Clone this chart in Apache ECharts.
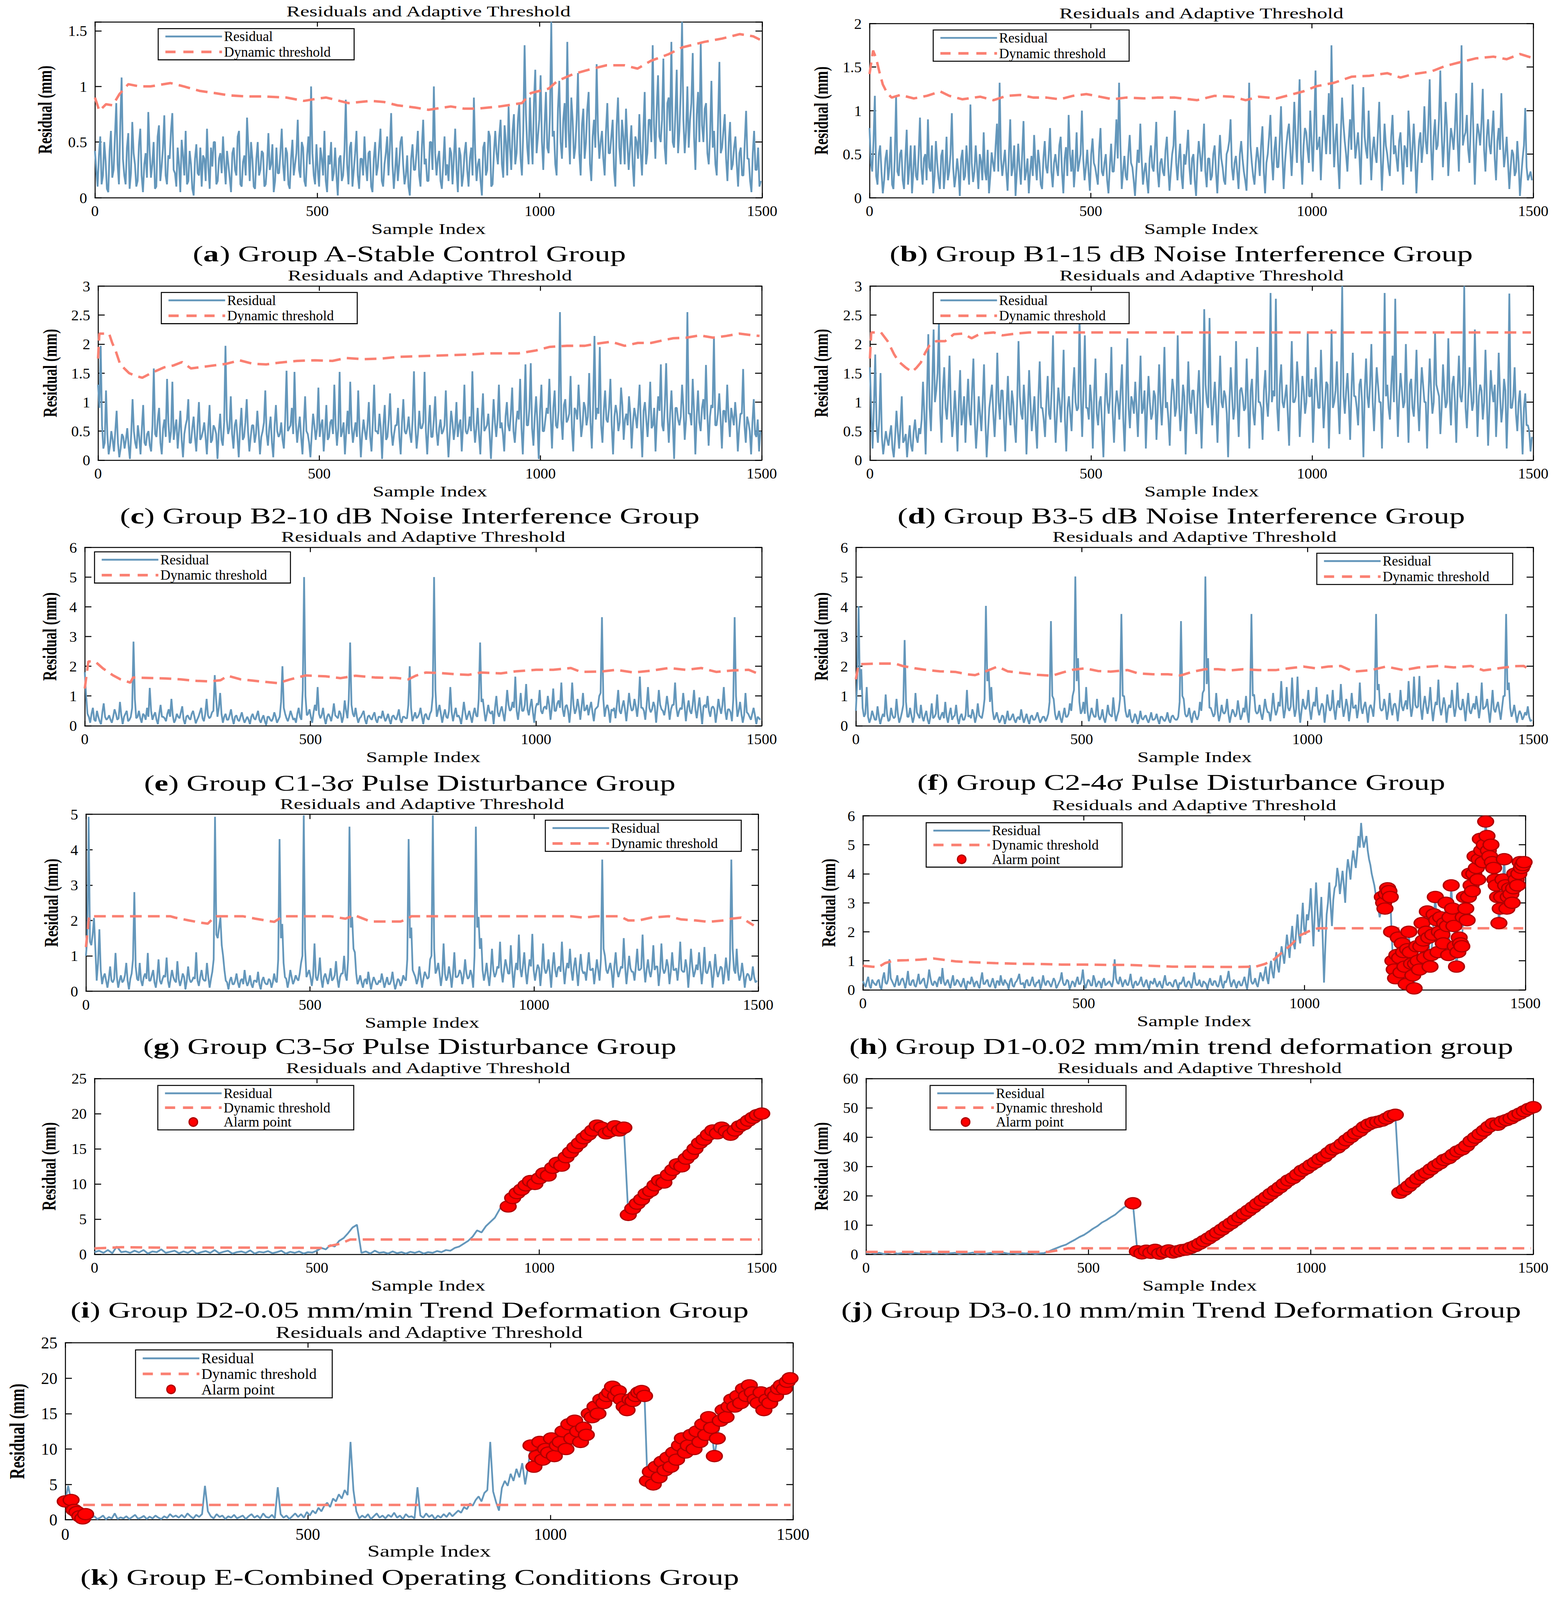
<!DOCTYPE html>
<html><head><meta charset="utf-8">
<script src="https://cdn.jsdelivr.net/npm/echarts@6/dist/echarts.min.js"></script>
<style>html,body{margin:0;padding:0;background:#fff;overflow:hidden}#c{width:3991px;height:5706px}</style>
</head><body><div id="c"></div>
<script>
// ---------------- DATA ----------------
// resX: samples 0,6,12,...  resX2: samples 3,9,15,...  (interleaved => one value every 3 samples)
// resI/resJ: one value every 10 samples; resK: one value every 6 samples
const resA = [0.42,0.1,0.55,0.2,0.33,0.05,0.6,0.25,0.85,0.12,
1.08,0.2,0.45,0.08,0.68,0.3,0.15,0.62,0.05,0.4,
0.77,0.18,0.5,0.1,0.65,0.28,0.74,0.12,0.35,0.76,
0.22,0.45,0.05,0.38,0.6,0.15,0.3,0.02,0.48,0.2,
0.1,0.35,0.62,0.08,0.28,0.5,0.15,0.4,0.55,0.12,
0.3,0.05,0.45,0.2,0.6,0.1,0.38,0.72,0.15,0.35,
0.08,0.5,0.25,0.4,0.12,0.58,0.3,0.05,0.45,0.22,
0.62,0.15,0.4,0.08,0.52,0.3,0.7,0.18,0.45,0.1,
0.55,1.0,0.2,0.48,0.1,0.35,0.6,0.05,0.3,0.15,
0.45,0.02,0.38,0.2,0.88,0.12,0.5,0.25,0.6,0.08,
0.35,0.55,0.15,0.42,0.05,0.5,0.28,0.62,0.1,0.4,
0.2,0.76,0.08,0.45,0.3,0.55,0.12,0.38,0.02,0.48,
0.25,0.6,0.1,0.7,0.35,0.15,0.5,1.0,0.2,0.42,
0.08,0.55,0.3,0.45,0.12,0.62,0.05,0.38,0.2,0.5,
0.1,0.45,0.9,0.15,0.35,0.02,0.5,0.25,0.55,0.12,
0.6,0.3,0.7,0.18,0.5,0.82,0.25,0.75,0.4,0.85,
0.2,1.37,0.45,0.9,0.3,1.15,0.55,1.1,0.25,0.95,
0.4,1.58,0.6,0.2,1.05,0.35,0.85,1.4,0.3,0.7,
0.45,1.12,0.2,0.8,0.5,0.95,0.15,0.7,1.2,0.35,
0.6,0.2,0.85,0.4,0.7,0.1,0.9,0.3,0.55,0.8,
0.25,0.65,0.1,0.5,0.75,0.2,0.95,0.4,0.7,1.37,
0.35,1.1,0.5,1.25,0.3,0.9,1.4,0.45,1.15,0.6,
1.58,0.4,1.0,0.7,1.3,0.25,0.95,1.39,0.5,0.85,
0.3,1.05,0.6,0.2,1.22,0.45,0.75,0.15,0.68,0.3,
0.55,0.1,0.45,0.2,0.78,0.35,0.05,0.6,0.25,0.1];
const resA2 = [0.25,0.38,0.12,0.5,0.08,0.42,0.18,0.55,0.3,0.65,
0.35,0.12,0.58,0.22,0.4,0.1,0.48,0.2,0.3,0.18,
0.42,0.3,0.08,0.55,0.15,0.45,0.2,0.38,0.6,0.25,
0.1,0.3,0.52,0.2,0.12,0.42,0.08,0.35,0.22,0.45,
0.38,0.15,0.28,0.45,0.5,0.12,0.35,0.22,0.3,0.42,
0.18,0.4,0.25,0.55,0.12,0.32,0.2,0.45,0.5,0.1,
0.35,0.2,0.42,0.1,0.3,0.25,0.48,0.15,0.22,0.4,
0.3,0.45,0.12,0.35,0.2,0.4,0.25,0.5,0.15,0.38,
0.3,0.4,0.12,0.25,0.45,0.2,0.15,0.38,0.5,0.22,
0.2,0.35,0.15,0.42,0.3,0.45,0.1,0.4,0.2,0.35,
0.2,0.3,0.4,0.1,0.35,0.2,0.45,0.15,0.3,0.55,
0.45,0.3,0.25,0.15,0.5,0.3,0.2,0.1,0.35,0.25,
0.4,0.2,0.45,0.3,0.15,0.5,0.25,0.4,0.35,0.15,
0.3,0.2,0.15,0.4,0.35,0.25,0.45,0.1,0.4,0.25,
0.35,0.2,0.4,0.3,0.15,0.45,0.2,0.6,0.1,0.4,
0.4,0.55,0.3,0.65,0.2,0.45,0.6,0.3,0.7,0.35,
0.6,0.75,0.3,0.55,0.85,0.4,0.7,0.5,0.65,0.45,
0.75,0.55,0.3,0.8,0.5,0.7,0.45,0.6,0.9,0.35,
0.7,0.4,0.65,0.35,0.8,0.3,0.55,0.45,0.6,0.5,
0.35,0.6,0.4,0.55,0.25,0.65,0.45,0.7,0.3,0.5,
0.45,0.3,0.55,0.35,0.4,0.6,0.3,0.7,0.5,0.65,
0.8,0.55,0.7,0.45,0.85,0.6,0.5,0.75,0.4,0.95,
0.7,0.6,0.45,0.85,0.55,0.75,0.5,0.65,0.8,0.4,
0.55,0.45,0.3,0.7,0.4,0.6,0.35,0.5,0.25,0.45,
0.3,0.4,0.2,0.5,0.35,0.15,0.4,0.25,0.45,0.15];
const resB = [0.8,0.3,1.17,0.15,0.6,0.05,0.45,0.2,0.7,0.1,
1.16,0.25,0.55,0.1,0.78,0.35,0.05,0.6,0.2,0.92,
0.15,0.5,0.9,0.3,0.05,0.65,0.22,0.48,0.1,0.7,
0.3,0.97,0.12,0.45,0.02,0.55,0.25,0.38,1.07,0.18,
0.6,0.1,0.42,0.75,0.2,0.05,0.52,0.3,0.85,1.32,
0.25,0.55,0.08,0.9,0.35,0.02,0.62,0.15,0.88,0.3,
0.05,0.48,0.72,0.2,0.4,0.1,0.65,0.28,0.8,0.12,
0.5,0.25,0.7,0.05,0.58,0.95,0.3,0.12,0.75,0.4,
1.0,0.2,0.55,0.08,0.68,0.35,0.15,0.8,0.25,0.5,
0.05,0.62,0.3,0.9,1.32,0.1,0.48,0.2,0.72,0.35,
0.02,0.55,0.85,0.15,0.4,0.05,0.6,0.3,0.87,0.12,
0.45,0.25,0.7,0.08,0.5,1.0,0.2,0.62,0.1,0.38,
0.78,0.15,0.5,0.02,0.65,0.3,0.85,0.12,0.45,0.25,
0.6,0.05,0.72,0.35,0.15,0.55,0.9,0.2,0.48,0.1,
0.65,0.3,0.08,1.32,0.4,0.15,0.58,0.25,0.82,0.05,
0.5,0.95,0.2,0.7,0.35,1.05,0.1,0.6,0.85,0.25,
1.1,0.4,1.36,0.15,0.8,0.55,1.0,0.3,1.46,0.6,
0.2,0.95,0.5,1.2,1.75,0.35,0.85,0.1,1.15,0.65,
0.3,0.9,1.3,0.45,0.75,0.15,1.27,0.55,1.0,0.2,
0.7,0.4,1.1,0.08,0.85,0.5,0.25,0.95,0.6,0.3,
0.75,0.15,0.55,1.0,0.3,0.85,0.05,0.65,0.4,1.05,
0.5,1.36,0.2,0.9,0.6,1.46,0.35,1.1,0.25,0.8,
0.55,1.2,0.3,1.75,0.7,0.95,0.4,1.32,0.15,0.85,
0.6,1.25,0.3,0.9,0.5,1.0,0.2,0.8,1.2,0.35,
0.7,0.1,0.55,0.25,0.65,0.02,0.45,1.03,0.2,0.3];
const resB2 = [0.4,0.65,0.25,0.5,0.3,0.2,0.55,0.35,0.15,0.45,
0.3,0.5,0.2,0.45,0.15,0.6,0.3,0.25,0.5,0.35,
0.45,0.2,0.35,0.6,0.25,0.4,0.1,0.55,0.3,0.2,
0.5,0.35,0.25,0.3,0.45,0.2,0.6,0.15,0.4,0.3,
0.35,0.5,0.2,0.3,0.55,0.25,0.4,0.6,0.3,0.45,
0.4,0.3,0.5,0.25,0.6,0.3,0.35,0.5,0.2,0.45,
0.3,0.25,0.4,0.55,0.15,0.45,0.35,0.5,0.3,0.4,
0.35,0.6,0.3,0.45,0.25,0.5,0.55,0.35,0.3,0.5,
0.45,0.35,0.3,0.5,0.4,0.25,0.55,0.3,0.4,0.2,
0.35,0.3,0.55,0.45,0.6,0.3,0.25,0.5,0.4,0.2,
0.3,0.4,0.45,0.3,0.2,0.45,0.35,0.55,0.3,0.4,
0.3,0.55,0.35,0.3,0.6,0.4,0.45,0.25,0.5,0.55,
0.35,0.45,0.2,0.4,0.5,0.55,0.3,0.45,0.2,0.5,
0.3,0.4,0.45,0.2,0.5,0.65,0.35,0.4,0.3,0.5,
0.45,0.2,0.55,0.6,0.25,0.4,0.45,0.6,0.3,0.4,
0.7,0.45,0.55,0.35,0.65,0.5,0.4,0.75,0.55,0.6,
0.7,0.85,0.5,0.6,0.75,0.4,0.65,0.8,0.55,0.7,
0.6,0.75,0.8,0.5,0.9,0.65,0.4,0.7,0.85,0.5,
0.65,0.55,0.8,0.6,0.5,0.75,0.7,0.45,0.6,0.55,
0.5,0.75,0.55,0.45,0.6,0.35,0.7,0.5,0.45,0.65,
0.45,0.6,0.35,0.7,0.55,0.5,0.4,0.75,0.6,0.65,
0.85,0.6,0.7,0.55,0.9,0.75,0.65,0.8,0.55,0.7,
0.8,0.65,0.9,0.6,0.75,0.55,0.85,0.7,0.6,0.75,
0.85,0.55,0.7,0.6,0.75,0.45,0.65,0.55,0.7,0.5,
0.4,0.35,0.5,0.3,0.4,0.25,0.6,0.35,0.25,0.2];
const resC = [1.3,1.97,0.2,1.2,0.1,0.5,0.15,0.85,0.05,0.45,
0.2,0.55,0.02,1.05,0.3,0.6,0.1,0.95,0.25,0.5,
0.15,1.58,0.4,0.9,0.1,0.7,1.4,0.3,1.35,0.55,
0.2,0.85,0.05,0.6,1.05,0.3,0.75,0.15,1.0,0.4,
0.65,0.1,0.95,0.35,0.55,0.02,0.8,0.25,1.97,0.45,
1.1,0.2,0.7,0.05,0.9,0.4,1.05,0.15,0.6,0.3,
0.85,0.1,0.5,1.2,0.25,0.75,0.05,0.95,0.4,0.65,
0.2,1.54,0.55,0.9,1.52,0.3,0.75,0.1,1.1,0.45,
0.05,0.8,0.35,1.25,0.6,0.15,0.95,0.4,0.7,1.3,
0.25,1.52,0.5,0.1,0.85,1.35,0.3,0.65,1.2,0.05,
0.7,0.35,1.0,0.15,1.3,0.5,0.8,0.02,0.95,0.4,
1.15,0.25,0.6,0.9,0.1,1.05,0.45,0.75,0.3,1.53,
0.2,0.85,0.55,1.52,0.1,0.95,0.4,1.1,0.25,0.7,
0.5,1.2,0.05,0.85,0.35,1.0,0.6,0.15,1.3,0.45,
0.75,1.53,0.3,0.9,0.1,1.15,0.55,0.8,0.02,1.05,
0.4,1.3,0.65,0.15,1.0,0.5,1.25,0.3,0.85,1.4,
0.1,1.65,0.6,1.67,0.25,1.1,0.02,1.3,0.5,0.9,
1.4,0.2,1.2,0.55,2.55,0.35,1.05,0.7,1.45,0.15,
0.85,1.3,0.4,1.0,0.6,1.5,0.2,2.14,0.9,1.95,
0.3,1.2,0.65,1.4,0.1,0.95,0.5,1.25,0.35,0.8,
1.1,0.2,0.9,0.55,1.3,0.05,1.0,0.4,1.35,0.6,
0.15,1.1,1.65,0.5,1.67,0.3,1.2,0.02,0.9,0.6,
1.3,0.35,2.55,0.8,1.4,0.1,1.2,0.5,1.05,1.64,
0.25,0.95,2.13,0.6,1.15,0.2,0.85,1.3,0.4,0.75,
1.0,0.15,0.8,1.57,0.3,0.65,0.1,1.05,0.4,0.15];
const resC2 = [0.9,0.6,0.3,0.45,0.25,0.35,0.5,0.3,0.2,0.4,
0.35,0.25,0.45,0.5,0.2,0.4,0.55,0.3,0.45,0.25,
0.6,0.45,0.7,0.3,0.55,0.4,0.65,0.5,0.35,0.7,
0.5,0.35,0.45,0.7,0.3,0.55,0.4,0.6,0.35,0.5,
0.4,0.55,0.3,0.6,0.45,0.5,0.35,0.65,0.7,0.55,
0.45,0.6,0.4,0.55,0.35,0.65,0.5,0.4,0.6,0.45,
0.5,0.4,0.65,0.45,0.55,0.3,0.6,0.5,0.45,0.35,
0.7,0.5,0.6,0.45,0.65,0.55,0.4,0.6,0.5,0.3,
0.45,0.6,0.55,0.4,0.7,0.5,0.35,0.65,0.45,0.6,
0.55,0.4,0.65,0.5,0.45,0.6,0.5,0.4,0.55,0.45,
0.5,0.6,0.4,0.65,0.5,0.45,0.55,0.6,0.35,0.7,
0.5,0.45,0.6,0.4,0.65,0.5,0.55,0.45,0.7,0.6,
0.45,0.55,0.65,0.5,0.6,0.4,0.7,0.5,0.55,0.45,
0.6,0.5,0.45,0.65,0.55,0.4,0.7,0.6,0.5,0.55,
0.5,0.65,0.55,0.45,0.7,0.5,0.6,0.45,0.55,0.65,
0.7,0.55,0.45,0.75,0.6,0.8,0.5,0.65,0.7,0.55,
0.8,0.6,0.9,0.55,0.75,0.65,0.85,0.5,0.7,0.8,
0.75,0.9,0.6,0.85,0.7,0.95,0.65,0.8,0.55,0.9,
0.7,0.85,0.6,0.9,0.75,0.65,0.95,0.7,0.8,0.6,
0.85,0.7,0.9,0.6,0.75,0.8,0.65,0.95,0.7,0.6,
0.8,0.65,0.75,0.9,0.6,0.85,0.7,0.8,0.55,0.9,
0.7,0.85,0.6,0.95,0.75,0.8,0.65,0.9,0.7,0.75,
0.9,0.7,0.8,0.6,0.85,0.75,0.65,0.9,0.7,0.8,
0.75,0.9,0.6,0.8,0.7,0.85,0.65,0.75,0.9,0.6,
0.7,0.55,0.8,0.6,0.75,0.5,0.65,0.45,0.7,0.5];
const resD = [1.6,0.2,1.82,0.3,1.5,0.1,0.5,0.25,0.6,0.05,
0.85,0.2,1.1,0.35,0.05,0.6,0.15,0.7,0.3,0.45,
1.35,0.1,2.17,0.5,2.25,1.2,2.35,0.3,1.6,0.7,
1.8,0.4,1.2,0.15,1.55,0.8,0.3,1.4,0.6,1.75,
0.2,1.1,0.5,1.65,0.05,0.9,1.3,0.4,1.85,0.7,
1.2,0.15,1.45,0.6,1.0,0.3,2.05,0.8,1.3,0.1,
1.55,0.5,1.1,0.2,1.7,0.9,0.4,1.45,0.7,2.15,
0.3,1.25,0.65,1.9,0.15,1.1,0.5,1.6,0.85,2.5,
0.4,2.15,0.9,1.3,0.2,1.75,0.6,1.1,0.05,1.5,
0.8,1.95,0.3,1.2,0.7,1.65,0.15,2.1,0.55,1.0,
1.35,0.4,1.8,0.9,0.2,1.45,0.7,1.2,0.35,1.65,
0.6,1.95,1.0,0.25,1.4,0.75,2.15,0.5,1.3,0.1,
1.7,0.8,1.2,0.45,1.55,0.2,2.6,1.0,2.45,0.6,
1.35,0.3,1.8,0.9,1.1,0.05,1.6,0.7,2.05,0.4,
1.25,0.85,1.75,0.2,1.4,0.6,1.95,1.0,0.35,1.55,
0.75,2.88,1.2,2.78,0.5,1.65,0.9,1.3,0.25,2.05,
1.0,1.7,0.4,1.45,0.8,2.2,1.1,0.3,1.6,0.9,
1.9,0.55,1.35,0.2,2.25,1.0,1.7,0.45,3.0,0.8,
1.5,0.35,1.85,1.1,0.6,1.4,0.05,1.75,0.9,2.0,
0.5,1.6,1.0,0.2,2.88,1.3,0.7,1.8,2.78,0.4,
1.5,0.9,2.0,0.3,1.4,0.75,1.9,0.5,1.6,1.0,
0.2,1.75,0.8,2.2,1.2,0.45,1.65,0.9,2.1,0.6,
1.45,0.3,1.8,1.0,3.0,0.55,1.6,0.85,2.25,0.4,
1.3,0.7,1.9,0.25,1.55,1.0,0.4,1.85,0.65,1.4,
0.2,2.87,0.9,1.6,0.5,1.2,0.1,1.15,0.6,0.15];
const resD2 = [0.8,0.9,0.6,0.7,0.4,0.3,0.35,0.45,0.2,0.4,
0.5,0.6,0.3,0.45,0.35,0.25,0.5,0.4,0.55,0.7,
0.8,1.1,0.9,1.3,1.0,1.5,0.8,1.2,0.9,1.1,
0.9,0.7,0.8,1.0,0.6,1.1,0.9,0.8,1.2,0.7,
0.6,0.8,1.0,0.7,0.5,1.1,0.8,0.9,1.0,1.2,
0.7,0.9,0.8,1.2,0.6,1.0,1.1,0.7,0.9,0.8,
1.0,0.8,0.6,1.1,0.9,0.7,1.0,0.8,1.2,0.9,
0.8,1.0,1.1,0.7,0.9,0.8,1.2,1.0,0.9,1.1,
1.2,0.9,0.7,1.0,1.1,0.8,1.0,0.6,0.9,1.0,
1.1,0.8,0.9,1.0,1.2,0.7,1.0,0.9,1.1,0.8,
0.9,1.1,0.8,1.2,0.9,1.0,0.8,1.1,0.9,1.0,
1.1,0.9,0.7,1.0,1.2,0.9,1.0,0.8,1.1,0.9,
1.0,1.2,0.8,1.1,0.9,1.0,1.3,0.9,1.1,1.0,
0.9,1.1,1.0,1.2,0.8,1.0,1.1,0.9,1.0,1.2,
1.1,0.9,1.0,1.2,0.8,1.1,1.0,0.9,1.2,1.0,
1.2,1.0,1.1,0.9,1.3,1.0,1.1,0.8,1.2,1.0,
1.1,1.3,0.9,1.2,1.0,1.1,1.4,1.0,1.2,0.9,
1.2,1.0,1.3,1.1,0.9,1.2,1.0,1.3,1.1,1.2,
1.0,1.2,1.1,0.9,1.3,1.0,1.2,1.1,1.3,1.0,
1.1,1.3,1.0,1.2,1.1,0.9,1.3,1.0,1.2,1.1,
1.2,1.0,1.1,1.3,0.9,1.2,1.0,1.1,1.3,1.0,
1.1,1.2,1.0,1.3,1.1,0.9,1.2,1.0,1.1,1.3,
1.0,1.2,1.1,1.3,0.9,1.1,1.2,1.0,1.3,1.1,
1.2,1.0,1.1,0.9,1.2,1.3,1.0,1.1,0.9,1.2,
1.0,0.9,1.1,0.8,1.0,0.7,0.9,0.6,0.5,0.4];
const resE = [1.8,0.4,0.1,0.6,0.15,0.3,0.05,0.75,0.2,0.35,
0.1,0.55,0.2,0.8,0.05,0.4,0.15,0.3,2.83,0.25,
0.5,0.1,0.35,0.6,1.27,0.2,0.45,0.05,0.7,0.3,
0.15,0.55,0.9,0.1,0.4,0.25,0.65,0.05,0.35,0.2,
0.5,0.08,0.3,0.6,0.15,0.9,0.25,0.45,1.7,0.3,
1.1,0.1,0.4,0.2,0.55,0.05,0.35,0.15,0.45,0.1,
0.3,0.05,0.4,0.2,0.5,0.1,0.35,0.02,0.3,0.15,
0.45,0.1,0.3,2.0,0.4,0.15,0.5,0.2,0.1,0.6,
0.2,5.0,0.35,0.55,0.1,0.7,1.3,0.25,0.6,0.05,
0.4,0.15,0.75,0.3,0.5,0.1,0.85,0.25,2.8,0.4,
0.6,0.1,0.3,0.5,0.05,0.35,0.2,0.45,0.1,0.3,
0.5,0.15,0.4,0.05,0.35,0.2,0.55,0.1,0.3,0.25,
2.0,0.15,0.45,0.3,0.6,0.05,0.4,0.2,0.5,5.0,
0.3,0.7,0.1,0.55,0.25,1.3,0.15,0.6,0.35,0.05,
0.8,0.2,0.5,0.1,0.6,0.3,2.8,0.9,0.15,0.7,
0.4,0.05,1.0,0.3,0.65,0.15,1.2,0.5,0.8,1.65,
0.2,1.1,0.5,1.4,0.35,0.9,0.1,0.75,1.2,0.4,
0.65,1.0,0.2,1.25,0.5,0.85,1.45,0.3,0.7,0.1,
1.45,0.4,0.9,0.2,1.1,0.55,0.35,0.8,0.15,0.6,
1.0,3.65,0.3,0.7,0.1,0.5,0.25,1.2,0.4,0.85,
0.15,1.1,0.5,0.9,0.3,1.65,0.6,0.2,1.3,0.45,
0.8,0.1,1.2,0.55,0.35,1.0,0.2,0.7,1.45,0.3,
0.6,1.1,0.15,0.85,0.4,1.2,0.25,0.95,0.05,0.7,
1.0,0.3,0.65,0.1,0.9,0.4,1.3,0.2,0.55,0.15,
3.65,0.3,0.8,0.1,1.1,0.4,0.2,0.6,0.05,0.25];
const resE2 = [1.0,0.3,0.4,0.2,0.5,0.15,0.45,0.3,0.25,0.2,
0.3,0.4,0.25,0.35,0.3,0.5,0.2,0.6,0.9,0.3,
0.25,0.4,0.2,0.3,0.5,0.35,0.2,0.4,0.3,0.25,
0.4,0.3,0.35,0.2,0.3,0.45,0.2,0.3,0.25,0.4,
0.3,0.2,0.45,0.25,0.4,0.35,0.3,0.5,0.9,0.6,
0.4,0.3,0.2,0.35,0.25,0.3,0.2,0.3,0.25,0.2,
0.2,0.3,0.25,0.35,0.2,0.25,0.15,0.3,0.2,0.25,
0.3,0.2,0.8,0.6,0.25,0.3,0.35,0.25,0.4,0.3,
1.2,1.0,0.4,0.3,0.45,0.5,0.4,0.35,0.25,0.3,
0.3,0.4,0.35,0.25,0.4,0.3,0.5,0.9,0.7,0.3,
0.3,0.25,0.4,0.2,0.3,0.25,0.35,0.2,0.3,0.25,
0.3,0.25,0.2,0.3,0.25,0.35,0.2,0.3,0.25,0.7,
0.6,0.3,0.25,0.4,0.3,0.35,0.25,0.4,1.0,1.2,
0.5,0.4,0.35,0.3,0.5,0.45,0.4,0.3,0.25,0.4,
0.45,0.35,0.3,0.4,0.35,0.9,0.8,0.5,0.4,0.45,
0.5,0.6,0.45,0.5,0.4,0.6,0.7,0.55,0.6,0.5,
0.6,0.5,0.7,0.55,0.65,0.45,0.6,0.7,0.5,0.6,
0.55,0.7,0.6,0.5,0.75,0.6,0.55,0.65,0.5,0.6,
0.7,0.55,0.6,0.65,0.5,0.7,0.6,0.45,0.55,0.65,
1.1,0.9,0.6,0.5,0.55,0.6,0.7,0.5,0.65,0.55,
0.6,0.7,0.55,0.65,0.75,0.6,0.5,0.7,0.6,0.55,
0.65,0.6,0.7,0.5,0.6,0.65,0.55,0.7,0.6,0.5,
0.55,0.65,0.6,0.5,0.7,0.55,0.6,0.5,0.65,0.6,
0.5,0.6,0.55,0.45,0.6,0.7,0.5,0.55,0.45,0.9,
1.0,0.5,0.4,0.35,0.45,0.3,0.4,0.35,0.3,0.2];
const resF = [0.5,4.02,1.9,0.3,1.3,0.1,0.5,0.2,0.65,0.05,
0.4,1.05,0.15,0.6,0.25,0.9,0.1,0.45,2.88,0.3,
0.6,0.1,1.1,0.35,0.7,0.15,0.5,0.05,0.75,0.3,
1.05,0.2,0.45,0.8,0.1,0.6,0.3,0.7,0.05,0.4,
0.2,1.2,0.35,0.55,0.1,0.75,0.3,0.5,4.03,1.9,
1.3,0.2,0.45,0.1,0.35,0.05,0.5,0.2,0.4,0.1,
0.3,0.55,0.1,0.4,0.05,0.35,0.2,0.45,0.1,0.3,
0.15,0.4,3.52,0.9,0.2,0.5,0.1,0.6,0.3,0.75,
1.0,5.02,2.27,0.4,0.8,1.3,0.15,0.6,0.3,0.9,
0.2,0.55,0.1,0.7,0.35,0.95,0.15,0.5,3.76,1.0,
0.3,0.55,0.1,0.4,0.05,0.5,0.2,0.35,0.1,0.45,
0.2,0.4,0.05,0.3,0.15,0.45,0.1,0.35,0.2,0.3,
3.52,0.9,0.3,0.6,0.1,0.5,0.2,0.8,1.1,5.02,
2.27,0.6,0.3,1.1,0.15,0.7,0.4,0.9,0.1,0.55,
0.3,0.85,0.2,0.6,1.0,0.1,3.76,1.05,0.4,0.7,
0.2,0.9,0.45,0.15,1.1,0.35,0.8,1.5,0.25,1.3,
0.5,1.62,0.3,1.65,0.1,0.9,0.55,1.2,0.2,0.8,
1.3,0.35,0.75,0.1,1.05,0.5,1.2,0.2,0.85,1.4,
0.3,0.9,0.15,1.1,0.6,0.25,1.45,0.4,0.8,0.1,
0.7,0.3,3.76,1.4,0.5,0.9,0.2,1.1,0.35,0.75,
0.15,1.2,0.5,0.85,1.5,0.3,1.65,0.6,1.67,0.2,
1.0,0.4,1.3,0.15,0.8,1.55,0.35,0.95,0.1,0.7,
1.2,0.3,1.45,0.55,0.9,0.15,1.1,0.4,0.75,1.0,
0.25,1.45,0.6,0.9,0.1,1.2,0.45,0.8,0.2,1.0,
3.76,1.45,0.3,0.7,0.1,0.5,0.2,0.45,0.65,0.15];
const resF2 = [1.5,1.2,0.6,0.4,0.3,0.25,0.35,0.2,0.3,0.25,
0.3,0.4,0.2,0.35,0.3,0.4,0.25,0.7,0.8,0.3,
0.35,0.3,0.45,0.25,0.3,0.35,0.2,0.3,0.25,0.4,
0.3,0.35,0.25,0.3,0.4,0.2,0.35,0.25,0.3,0.2,
0.35,0.3,0.25,0.4,0.3,0.35,0.25,0.9,1.5,0.8,
0.5,0.3,0.25,0.2,0.3,0.25,0.2,0.3,0.2,0.25,
0.2,0.3,0.25,0.2,0.3,0.2,0.3,0.25,0.2,0.3,
0.25,0.8,1.0,0.4,0.3,0.25,0.35,0.3,0.4,0.5,
1.2,1.5,0.8,0.5,0.4,0.5,0.35,0.4,0.3,0.35,
0.3,0.25,0.35,0.4,0.3,0.45,0.35,0.9,1.0,0.5,
0.3,0.25,0.2,0.3,0.2,0.25,0.3,0.2,0.25,0.2,
0.25,0.2,0.3,0.2,0.25,0.2,0.3,0.25,0.2,0.8,
1.0,0.4,0.35,0.3,0.4,0.3,0.35,0.5,1.2,1.4,
0.6,0.45,0.4,0.5,0.35,0.45,0.5,0.4,0.35,0.45,
0.4,0.5,0.35,0.45,0.4,0.9,1.0,0.5,0.45,0.4,
0.5,0.6,0.45,0.55,0.6,0.5,0.65,0.7,0.55,0.6,
0.65,0.7,0.55,0.6,0.5,0.65,0.7,0.55,0.6,0.65,
0.6,0.55,0.65,0.5,0.7,0.6,0.55,0.65,0.6,0.7,
0.55,0.65,0.5,0.6,0.7,0.55,0.6,0.65,0.5,0.6,
0.55,0.9,1.2,0.6,0.55,0.65,0.5,0.6,0.7,0.55,
0.6,0.65,0.7,0.55,0.75,0.6,0.7,0.65,0.6,0.7,
0.65,0.7,0.6,0.55,0.7,0.65,0.6,0.7,0.55,0.6,
0.7,0.6,0.65,0.55,0.6,0.65,0.5,0.6,0.55,0.65,
0.6,0.55,0.65,0.5,0.6,0.55,0.65,0.5,0.6,1.0,
1.2,0.6,0.45,0.4,0.35,0.4,0.3,0.35,0.3,0.2];
const resG = [1.0,4.93,1.3,2.07,0.3,1.75,0.2,0.5,0.1,0.7,
0.25,1.08,0.1,0.45,0.3,0.8,0.05,0.5,2.8,0.35,
0.8,0.15,0.5,1.08,0.3,0.6,0.1,0.9,0.2,0.45,
0.95,0.1,0.6,0.3,0.85,0.15,0.5,0.05,0.7,0.25,
0.4,1.1,0.15,0.6,0.3,0.8,0.1,0.55,4.93,1.5,
2.08,1.0,0.3,0.05,0.4,0.2,0.5,0.1,0.35,0.6,
0.15,0.45,0.1,0.3,0.55,0.05,0.4,0.2,0.35,0.1,
0.5,0.25,4.3,1.9,0.4,0.1,0.6,0.2,0.45,0.3,
0.8,4.97,0.4,0.6,0.15,1.35,0.3,0.95,0.1,0.5,
0.2,0.65,0.35,0.85,0.1,0.5,1.0,0.3,4.65,2.1,
1.1,0.2,0.45,0.1,0.35,0.55,0.05,0.4,0.2,0.3,
0.5,0.1,0.4,0.2,0.55,0.05,0.35,0.15,0.45,0.3,
4.3,1.8,0.5,0.2,0.7,0.1,0.55,0.35,0.9,4.97,
0.5,0.8,0.15,1.35,0.3,0.7,0.1,1.1,0.4,0.6,
0.2,0.9,0.35,0.6,0.1,4.65,2.1,1.5,0.3,0.8,
0.15,1.2,0.4,0.7,1.4,0.25,0.9,0.5,1.3,0.1,
0.8,1.6,0.4,1.1,0.2,0.9,1.62,0.3,0.75,0.15,
1.35,0.5,0.9,0.1,1.1,0.4,0.7,1.4,0.2,0.8,
1.2,0.3,0.95,0.15,1.05,0.5,0.3,1.1,0.6,0.2,
0.9,0.3,3.72,1.0,0.5,0.8,0.1,1.1,0.4,0.7,
1.5,0.2,1.0,0.55,0.3,1.2,0.6,1.6,0.25,0.9,
0.4,1.3,0.7,0.15,1.35,0.5,0.9,0.2,1.1,0.6,
0.3,1.4,0.55,0.9,0.1,1.2,0.4,0.75,1.1,0.2,
1.25,0.5,0.85,0.1,1.05,0.4,0.7,0.2,0.95,0.3,
3.72,0.6,1.2,0.3,0.8,0.1,0.5,0.3,0.7,0.25];
const resG2 = [1.5,1.4,1.6,1.2,0.8,0.6,0.4,0.3,0.35,0.3,
0.35,0.4,0.3,0.25,0.45,0.3,0.35,0.9,0.7,0.3,
0.3,0.4,0.35,0.3,0.45,0.25,0.4,0.3,0.35,0.4,
0.3,0.35,0.4,0.25,0.35,0.3,0.4,0.3,0.35,0.3,
0.35,0.3,0.4,0.35,0.3,0.4,0.35,0.9,1.6,1.8,
1.3,0.6,0.25,0.3,0.2,0.3,0.25,0.3,0.2,0.3,
0.25,0.2,0.3,0.25,0.2,0.3,0.25,0.2,0.3,0.25,
0.3,0.9,1.5,0.8,0.35,0.3,0.4,0.3,0.35,0.5,
1.0,1.2,0.5,0.4,0.45,0.4,0.5,0.35,0.4,0.35,
0.4,0.3,0.45,0.35,0.4,0.5,0.45,0.9,1.8,1.2,
0.5,0.3,0.25,0.3,0.2,0.3,0.25,0.3,0.2,0.25,
0.3,0.25,0.2,0.3,0.25,0.2,0.3,0.25,0.35,0.9,
1.5,0.6,0.4,0.35,0.4,0.35,0.45,0.4,1.0,1.2,
0.6,0.5,0.45,0.5,0.4,0.45,0.5,0.4,0.45,0.5,
0.45,0.5,0.4,0.45,1.0,1.8,1.2,0.6,0.5,0.45,
0.55,0.6,0.5,0.65,0.55,0.6,0.7,0.5,0.6,0.55,
0.6,0.65,0.7,0.55,0.6,0.7,0.6,0.55,0.65,0.6,
0.65,0.6,0.55,0.7,0.6,0.65,0.55,0.7,0.6,0.65,
0.6,0.7,0.55,0.65,0.6,0.55,0.7,0.6,0.65,0.55,
0.6,0.9,1.2,0.6,0.65,0.55,0.7,0.6,0.55,0.65,
0.7,0.6,0.65,0.55,0.7,0.6,0.65,0.7,0.6,0.55,
0.65,0.6,0.7,0.55,0.65,0.6,0.7,0.55,0.6,0.65,
0.7,0.6,0.55,0.65,0.6,0.7,0.55,0.6,0.65,0.6,
0.55,0.65,0.6,0.5,0.6,0.55,0.65,0.5,0.6,0.9,
1.2,0.5,0.55,0.45,0.5,0.4,0.45,0.35,0.4,0.3];
const resH = [0.3,0.1,0.45,0.05,0.25,0.15,0.35,0.02,0.6,0.2,
1.05,0.3,0.1,0.5,0.2,0.4,0.05,0.65,0.15,0.35,
0.1,0.55,0.25,0.4,0.05,0.7,0.2,0.3,0.1,0.45,
0.75,0.15,0.35,0.05,0.5,0.2,0.3,0.1,0.4,0.02,
0.25,0.45,0.1,0.3,0.05,0.6,0.2,0.35,0.1,0.4,
0.05,0.3,0.5,0.15,0.25,0.02,0.4,0.1,0.3,0.55,
0.2,0.05,0.35,0.15,0.45,0.1,0.25,0.02,0.5,0.15,
0.3,0.1,0.4,0.05,0.25,0.6,0.15,0.35,0.02,0.3,
0.1,0.45,0.2,0.7,0.05,0.35,0.15,0.5,0.1,0.3,
0.05,0.4,0.2,0.3,0.1,1.05,0.25,0.45,0.1,0.35,
0.15,0.55,0.05,0.3,0.2,0.45,0.1,0.35,0.02,0.25,
0.4,0.1,0.3,0.05,0.5,0.15,0.25,0.1,0.35,0.02,
0.2,0.45,0.1,0.3,0.05,0.6,0.15,0.35,0.1,0.25,
0.02,0.4,0.15,0.3,0.1,0.5,0.05,0.25,0.65,0.1,
0.35,0.05,0.3,0.15,0.45,0.02,0.85,0.2,0.4,0.1,
0.6,0.3,0.8,0.2,1.0,0.4,1.3,0.6,1.5,0.9,
1.9,1.1,2.2,1.4,2.6,1.6,3.0,1.9,2.4,3.5,
1.5,3.7,2.0,3.2,0.25,2.6,3.7,2.2,3.5,4.2,
3.3,4.1,3.0,4.5,3.8,4.8,4.2,5.3,5.75,4.9,
5.3,4.5,4.0,3.6,3.0,2.5,3.2,2.8,3.5,3.2,
1.0,0.4,1.8,0.6,1.3,0.2,2.0,0.9,0.05,1.5,
0.7,2.3,1.1,2.7,0.8,1.9,3.2,1.3,2.5,1.6,
3.0,1.2,3.6,2.2,0.8,1.8,1.5,3.2,2.4,4.0,
3.4,4.6,3.8,5.2,4.4,5.8,4.8,5.0,4.2,3.6,
2.3,3.2,4.5,2.8,3.5,3.0,4.0,3.6,4.4,4.3];
const resH2 = [0.2,0.3,0.15,0.35,0.2,0.3,0.1,0.4,0.25,0.35,
0.4,0.2,0.3,0.15,0.35,0.25,0.3,0.2,0.3,0.15,
0.3,0.2,0.35,0.15,0.3,0.4,0.15,0.25,0.35,0.2,
0.3,0.25,0.2,0.3,0.15,0.35,0.2,0.25,0.15,0.3,
0.2,0.3,0.25,0.15,0.35,0.2,0.3,0.15,0.25,0.2,
0.3,0.15,0.25,0.35,0.2,0.3,0.15,0.25,0.4,0.2,
0.25,0.3,0.15,0.3,0.2,0.25,0.35,0.2,0.25,0.3,
0.2,0.25,0.3,0.15,0.35,0.25,0.2,0.3,0.15,0.25,
0.3,0.2,0.35,0.25,0.2,0.3,0.15,0.35,0.2,0.25,
0.3,0.15,0.25,0.2,0.35,0.4,0.2,0.3,0.25,0.2,
0.3,0.2,0.25,0.15,0.3,0.2,0.25,0.15,0.3,0.2,
0.25,0.2,0.15,0.3,0.2,0.25,0.15,0.3,0.2,0.25,
0.3,0.15,0.25,0.2,0.3,0.25,0.2,0.15,0.3,0.2,
0.25,0.2,0.3,0.15,0.25,0.2,0.3,0.4,0.3,0.25,
0.2,0.25,0.15,0.3,0.2,0.4,0.3,0.25,0.2,0.35,
0.45,0.55,0.4,0.7,0.6,0.9,0.8,1.1,1.2,1.4,
1.5,1.7,1.6,2.0,1.9,2.3,2.1,2.6,2.8,2.5,
2.6,2.8,2.5,1.8,1.5,3.0,2.9,3.1,3.6,3.9,
3.7,3.6,4.0,4.2,4.4,4.5,4.7,4.9,5.2,5.1,
4.8,4.3,3.8,3.3,2.8,2.7,3.0,3.3,3.4,2.0,
0.7,1.2,1.1,1.6,0.8,1.4,1.3,0.5,0.9,1.0,
1.5,1.7,2.0,1.8,1.2,2.6,2.4,2.0,1.9,2.3,
2.2,2.5,2.8,1.5,1.3,1.6,2.5,2.8,3.2,3.6,
4.0,4.2,4.5,4.8,5.0,5.3,4.6,4.4,3.8,3.2,
2.8,3.8,3.6,3.2,3.3,3.5,3.8,4.0,4.2,4.4];
const resI = [0.3,0.5,0.2,0.6,0.15,1.1,0.3,0.4,0.2,0.5,
0.25,0.6,0.1,0.4,0.3,0.7,0.2,0.35,0.5,0.15,
0.4,0.2,0.55,0.1,0.3,0.45,0.2,0.6,0.15,0.35,
0.5,0.1,0.3,0.4,0.2,0.55,0.1,0.35,0.25,0.45,
0.15,0.3,0.5,0.1,0.35,0.2,0.4,0.1,0.3,0.25,
0.5,0.9,0.7,1.3,1.1,1.9,2.3,3.0,3.8,4.2,
0.2,0.4,0.1,0.5,0.2,0.3,0.1,0.4,0.15,0.3,
0.1,0.35,0.2,0.4,0.1,0.3,0.2,0.45,0.3,0.6,
0.5,0.9,1.1,1.5,1.9,2.5,3.4,3.1,4.0,4.6,
5.2,6.3,7.4,6.8,8.0,8.7,9.2,9.8,10.4,10.0,
10.8,11.5,11.2,12.3,13.0,12.6,13.8,14.5,15.2,15.8,
16.5,17.0,17.6,18.3,18.0,17.2,17.5,18.2,17.6,18.0,
5.6,6.5,7.2,7.8,8.6,9.0,9.8,10.5,10.2,11.3,
12.0,12.8,12.5,13.6,14.2,15.0,15.8,16.3,17.0,17.6,
17.2,18.0,17.5,17.0,17.6,18.2,18.5,19.0,19.4,19.8,
20.0];
const resJ = [0.3,0.6,0.2,0.5,0.1,0.4,0.7,0.2,0.35,0.5,
0.15,0.45,0.3,0.6,0.1,0.4,0.25,0.5,0.2,0.35,
0.5,0.1,0.4,0.3,0.55,0.15,0.35,0.2,0.45,0.1,
0.3,0.5,0.2,0.4,0.1,0.35,0.25,0.5,0.15,0.3,
0.4,0.9,1.6,2.2,2.8,3.3,4.2,5.0,5.9,6.6,
7.6,8.7,9.6,10.8,11.6,12.6,13.5,14.8,16.0,16.8,
17.4,1.0,0.3,1.2,0.5,1.5,0.2,0.8,1.3,0.6,
1.0,1.4,1.6,2.2,2.8,3.6,4.5,5.4,6.4,7.4,
8.4,9.5,10.5,11.6,12.7,13.8,14.9,16.0,17.2,18.3,
19.4,20.6,21.7,22.8,24.0,25.2,26.0,27.2,28.5,29.3,
30.4,31.3,32.5,33.3,34.6,35.8,36.4,37.6,38.9,40.0,
41.2,42.1,43.4,44.3,44.9,45.2,45.6,46.3,47.2,47.6,
21.0,22.0,23.2,24.5,25.8,27.0,27.8,29.0,30.1,31.0,
32.2,32.8,34.0,35.1,35.8,37.0,38.6,39.8,41.0,42.2,
43.5,44.6,44.2,45.3,45.8,46.4,47.3,48.0,48.8,49.6,
50.2];
const resK = [2.6,4.8,2.8,1.4,1.1,0.5,0.2,0.8,0.1,0.3,
0.5,0.1,0.3,0.6,0.05,0.4,0.2,0.9,0.1,0.35,
0.2,0.5,0.1,0.4,0.7,0.15,0.3,0.55,0.1,0.45,
0.2,0.6,0.3,0.1,0.5,0.25,0.8,0.4,0.6,0.3,
0.7,0.3,0.9,0.5,0.2,0.7,0.4,0.8,4.8,1.2,
0.5,0.2,0.8,0.4,0.6,0.1,0.5,0.3,0.7,0.2,
0.4,0.6,0.1,0.5,0.8,0.3,0.6,0.2,0.9,0.4,
0.3,0.7,0.2,4.6,0.8,0.3,0.6,0.1,0.5,0.9,
0.4,0.8,0.3,1.1,0.6,1.3,0.9,1.7,1.2,2.0,
2.4,1.8,3.0,2.6,3.6,3.0,4.2,3.5,11.0,4.2,
1.2,0.2,0.6,0.3,0.8,0.1,0.5,0.9,0.3,0.6,
0.2,0.7,0.4,1.0,0.3,0.6,0.1,0.8,0.4,0.5,
0.2,4.6,0.6,0.3,0.9,0.4,0.7,0.1,0.6,0.3,
0.8,0.4,1.0,0.5,0.9,1.3,1.0,1.8,1.5,2.3,
2.0,2.8,3.3,2.6,3.8,4.2,11.0,4.0,2.5,1.3,
4.5,5.5,4.8,6.5,5.5,7.2,6.0,8.0,5.0,7.5,
10.5,7.5,9.0,11.0,8.5,10.0,9.5,11.5,9.0,10.5,
11.0,12.5,10.0,13.5,11.5,14.0,12.5,11.0,13.0,12.0,
15.0,14.5,16.0,15.0,17.0,16.5,17.5,18.0,18.8,17.5,
18.2,17.0,16.0,15.5,17.0,16.8,17.5,18.0,18.2,17.5,
5.5,6.8,5.0,7.5,6.0,8.2,7.0,8.8,7.5,9.5,
8.5,10.5,11.5,9.5,10.5,12.0,10.0,12.5,11.0,13.5,
12.0,14.5,13.0,9.0,11.5,14.0,15.5,14.5,16.0,17.0,
16.0,17.5,16.5,18.5,17.5,19.0,18.0,17.0,16.5,18.0,
15.5,17.0,16.5,18.0,17.5,18.5,19.0,18.5,19.5,20.0];

// dynamic threshold: [sample index, value]
const thrA = [[0,0.9],[10,0.78],[25,0.84],[40,0.83],[55,0.93],[75,1.02],[100,1.0],[125,1.0],[170,1.03],[200,1.0],[235,0.96],[270,0.94],[300,0.92],[340,0.91],[380,0.91],[430,0.9],[470,0.87],[500,0.89],[520,0.9],[570,0.85],[620,0.87],[650,0.86],[680,0.83],[720,0.81],[750,0.79],[800,0.82],[830,0.8],[860,0.8],[910,0.82],[960,0.85],[980,0.94],[1020,0.98],[1040,1.05],[1075,1.11],[1110,1.15],[1150,1.19],[1190,1.19],[1220,1.16],[1250,1.23],[1290,1.29],[1320,1.35],[1370,1.4],[1410,1.43],[1450,1.47],[1480,1.45],[1495,1.42]];
const thrB = [[0,1.42],[8,1.69],[15,1.6],[22,1.45],[30,1.3],[40,1.2],[50,1.15],[70,1.18],[100,1.14],[130,1.17],[160,1.22],[180,1.17],[210,1.13],[250,1.16],[280,1.12],[310,1.17],[340,1.18],[370,1.15],[400,1.15],[430,1.13],[460,1.17],[490,1.19],[520,1.16],[550,1.13],[580,1.15],[620,1.14],[650,1.15],[690,1.15],[740,1.12],[780,1.17],[820,1.16],[850,1.12],[880,1.16],[920,1.14],[950,1.18],[980,1.22],[1010,1.28],[1050,1.32],[1090,1.39],[1130,1.4],[1170,1.43],[1200,1.38],[1230,1.42],[1270,1.45],[1300,1.51],[1330,1.55],[1370,1.6],[1410,1.62],[1440,1.59],[1470,1.65],[1495,1.61]];
const thrC = [[0,1.75],[3,2.18],[25,2.18],[32,2.02],[40,1.88],[50,1.65],[70,1.5],[85,1.45],[100,1.42],[120,1.5],[150,1.6],[170,1.63],[190,1.69],[210,1.58],[250,1.62],[290,1.66],[320,1.72],[350,1.66],[380,1.65],[410,1.68],[450,1.71],[490,1.72],[530,1.71],[560,1.76],[600,1.74],[640,1.75],[680,1.78],[720,1.79],[760,1.8],[800,1.81],[840,1.82],[880,1.84],[920,1.84],[950,1.84],[990,1.89],[1020,1.95],[1060,1.97],[1100,1.97],[1130,2.01],[1160,2.04],[1190,1.97],[1220,2.02],[1250,2.02],[1280,2.07],[1300,2.1],[1330,2.11],[1360,2.15],[1390,2.11],[1420,2.14],[1450,2.18],[1480,2.15],[1495,2.14]];
const thrD = [[0,1.75],[3,2.2],[25,2.2],[40,2.05],[55,1.82],[65,1.7],[80,1.6],[95,1.52],[105,1.59],[115,1.68],[125,1.85],[135,1.98],[150,2.05],[170,2.05],[190,2.17],[210,2.18],[230,2.1],[250,2.18],[280,2.2],[300,2.15],[330,2.18],[360,2.2],[1495,2.2]];
const thrE = [[0,1.25],[8,2.16],[23,2.16],[40,1.93],[62,1.7],[79,1.56],[101,1.45],[107,1.62],[179,1.59],[212,1.56],[245,1.51],[278,1.49],[301,1.53],[317,1.68],[345,1.56],[389,1.49],[428,1.43],[456,1.56],[489,1.69],[534,1.66],[567,1.6],[600,1.68],[645,1.62],[689,1.61],[717,1.56],[733,1.68],[756,1.79],[789,1.77],[822,1.73],[850,1.71],[878,1.79],[922,1.76],[955,1.83],[1000,1.88],[1038,1.88],[1077,1.94],[1099,1.81],[1144,1.82],[1177,1.88],[1216,1.79],[1255,1.85],[1294,1.94],[1332,1.88],[1366,1.94],[1399,1.81],[1438,1.86],[1471,1.88],[1490,1.76]];
const thrF = [[0,1.56],[6,2.07],[48,2.09],[87,2.09],[103,2.01],[131,1.93],[159,1.87],[186,1.83],[220,1.81],[247,1.73],[264,1.7],[286,1.82],[314,1.99],[336,1.83],[369,1.77],[403,1.71],[434,1.68],[458,1.79],[480,1.88],[508,1.93],[536,1.84],[564,1.82],[602,1.87],[625,1.76],[658,1.73],[691,1.73],[719,1.69],[747,1.82],[774,1.9],[802,1.9],[830,1.86],[858,1.9],[891,1.87],[930,1.87],[958,1.93],[991,1.99],[1019,1.93],[1046,1.99],[1074,2.01],[1102,1.82],[1141,1.87],[1174,1.99],[1213,1.87],[1246,1.96],[1290,2.01],[1324,1.96],[1362,2.01],[1390,1.86],[1423,1.93],[1457,2.0],[1479,2.01],[1490,1.9]];
const thrG = [[0,1.25],[7,2.12],[188,2.12],[199,2.08],[230,2.0],[260,1.93],[272,1.91],[283,2.05],[291,2.12],[350,2.12],[378,2.05],[420,1.96],[440,2.12],[545,2.12],[579,2.05],[599,2.15],[629,2.0],[640,1.97],[702,1.97],[719,2.05],[726,2.12],[1082,2.12],[1110,2.08],[1138,2.12],[1191,2.12],[1210,2.0],[1233,2.0],[1261,2.08],[1300,2.12],[1328,2.03],[1361,2.0],[1389,1.96],[1423,2.0],[1440,2.05],[1462,2.08],[1490,1.86]];
const thrH = [[0,0.83],[20,0.8],[35,0.78],[50,0.92],[70,1.01],[100,1.02],[130,1.04],[160,1.08],[180,1.04],[210,0.98],[250,0.95],[300,0.92],[350,0.9],[400,0.89],[450,0.87],[500,0.87],[550,0.86],[600,0.86],[650,0.83],[700,0.8],[750,0.8],[800,0.79],[850,0.79],[890,0.8],[910,0.89],[930,1.04],[950,1.3],[970,1.56],[990,1.88],[1010,2.02],[1030,2.12],[1495,2.12]];
const thrI = [[0,0.84],[60,1.0],[150,0.95],[300,0.95],[460,0.92],[510,0.9],[530,1.2],[553,1.5],[575,2.1],[1495,2.1]];
const thrJ = [[0,0.8],[410,0.8],[430,1.3],[455,2.05],[1495,2.05]];
const thrK = [[0,2.1],[1495,2.1]];

// alarm-point sample ranges (alarm markers sit on the residual samples inside them)
const alarmH = [[1176,1500]];
const alarmI = [[930,1500]];
const alarmJ = [[600,1500]];
const alarmK = [[0,0],[12,45],[960,1500]];

// axis ranges and tick steps
const yMax = [1.58,2,3,3,6,6,5,6,25,60,25];
const yTick = [0.5,0.5,0.5,0.5,1,1,1,1,5,10,5];
const xTicks = [0,500,1000,1500];

const letters = ['a','b','c','d','e','f','g','h','i','j','k'];
const captions = ['Group A-Stable Control Group','Group B1-15 dB Noise Interference Group','Group B2-10 dB Noise Interference Group','Group B3-5 dB Noise Interference Group','Group C1-3\u03c3 Pulse Disturbance Group','Group C2-4\u03c3 Pulse Disturbance Group','Group C3-5\u03c3 Pulse Disturbance Group','Group D1-0.02 mm/min trend deformation group','Group D2-0.05 mm/min Trend Deformation Group','Group D3-0.10 mm/min Trend Deformation Group','Group E-Combined Operating Conditions Group'];
const titleText = 'Residuals and Adaptive Threshold';
const xName = 'Sample Index';
const yName = 'Residual (mm)';
const seriesNames = ['Residual','Dynamic threshold','Alarm point'];

function interleave(a, b){ const out = []; for (let k = 0; k < a.length; k++){ out.push(a[k]); if (k < b.length) out.push(b[k]); } return out; }

const panels = [
 {res:interleave(resA,resA2), step:3, thr:thrA, alarm:null},
 {res:interleave(resB,resB2), step:3, thr:thrB, alarm:null},
 {res:interleave(resC,resC2), step:3, thr:thrC, alarm:null},
 {res:interleave(resD,resD2), step:3, thr:thrD, alarm:null},
 {res:interleave(resE,resE2), step:3, thr:thrE, alarm:null},
 {res:interleave(resF,resF2), step:3, thr:thrF, alarm:null},
 {res:interleave(resG,resG2), step:3, thr:thrG, alarm:null},
 {res:interleave(resH,resH2), step:3, thr:thrH, alarm:alarmH},
 {res:resI, step:10, thr:thrI, alarm:alarmI},
 {res:resJ, step:10, thr:thrJ, alarm:alarmJ},
 {res:resK, step:6, thr:thrK, alarm:alarmK}
];

// ---------------- LAYOUT (reference pixels, scaled to the window) ----------------
const layout = [
 {L:243, R:1951, T:78,   B:705,  ylo:128, lg:[405,102],   cap:[1049,905],  fs:1},
 {L:2226,R:3925, T:84,   B:705,  ylo:124, lg:[2389,107],  cap:[3024,905],  fs:1},
 {L:251, R:1950, T:1020, B:1641, ylo:123, lg:[413,1043],  cap:[1049,1840], fs:1},
 {L:2227,R:3925, T:1020, B:1641, ylo:125, lg:[2389,1043], cap:[3024,1840], fs:1},
 {L:217, R:1950, T:1952, B:2588, ylo:90,  lg:[242,1968],  cap:[1049,2792], fs:1},
 {L:2191,R:3925, T:1952, B:2588, ylo:89,  lg:[3371,1973], cap:[3024,2790], fs:1},
 {L:220, R:1941, T:2904, B:3535, ylo:89,  lg:[1396,2925], cap:[1049,3732], fs:1},
 {L:2209,R:3905, T:2909, B:3530, ylo:88,  lg:[2371,2934], cap:[3024,3732], fs:1},
 {L:242, R:1950, T:3846, B:4473, ylo:117, lg:[404,3871],  cap:[1049,4672], fs:1},
 {L:2217,R:3925, T:3846, B:4473, ylo:115, lg:[2381,3871], cap:[3024,4672], fs:1},
 {L:167, R:2030, T:4789, B:5420, ylo:123, lg:[347,4814],  cap:[1049,5625], fs:1.08}
];

const REF_W = 3991, REF_H = 5706;
const VW = window.innerWidth || REF_W, VH = window.innerHeight || REF_H;
const sx = VW / REF_W, sy = VH / REF_H, sg = Math.sqrt(sx * sy);
const el = document.getElementById('c');
el.style.width = VW + 'px'; el.style.height = VH + 'px';
const X = v => v * sx, Y = v => v * sy, Gs = v => v * sg;

const FONT = '"Liberation Serif","Times New Roman",serif';
const BLUE = '#6497bb', SALMON = '#fa8072', RED = '#ff0000', DARKRED = '#b00000';
const HIDE = {opacity:0, color:'rgba(0,0,0,0)', borderWidth:0};
const ELLIPSE = 'path://M0,50A50,50 0 1,0 100,50A50,50 0 1,0 0,50Z';

const option = {backgroundColor:'#fff', animation:false, grid:[], xAxis:[], yAxis:[], series:[], legend:[], graphic:{elements:[]}};

function axisCommon(tickLen){
  return {
    axisLine:{show:true,onZero:false,lineStyle:{color:'#000',width:Gs(3)}},
    axisTick:{show:true,inside:true,length:tickLen,lineStyle:{color:'#000',width:Gs(3)}},
    splitLine:{show:false}
  };
}

layout.forEach((p,i)=>{
  const d = panels[i];
  const fs = p.fs;
  const tickFS = Gs(46*fs);
  option.grid.push({left:X(p.L), top:Y(p.T), width:X(p.R-p.L), height:Y(p.B-p.T)});
  const xr = {min:xTicks[0], max:xTicks[xTicks.length-1], interval:xTicks[1]-xTicks[0]};
  option.xAxis.push(Object.assign(axisCommon(Y(17)), xr, {gridIndex:i, type:'value', position:'bottom',
    axisLabel:{show:true, fontFamily:FONT, fontSize:tickFS, color:'#000', margin:Math.max(2, Y(47*fs)-tickFS/2), formatter:v=>String(v)}}));
  option.xAxis.push(Object.assign(axisCommon(Y(17)), xr, {gridIndex:i, type:'value', position:'top', axisLabel:{show:false}}));
  const yr = {min:0, max:yMax[i], interval:yTick[i]};
  option.yAxis.push(Object.assign(axisCommon(X(17)), yr, {gridIndex:i, type:'value', position:'left',
    axisLabel:{show:true, fontFamily:FONT, fontSize:tickFS, color:'#000', margin:X(20),
      formatter:(v)=>{ const r=v/yTick[i]; return Math.abs(r-Math.round(r))<1e-6 ? String(+v.toFixed(2)) : ''; }}}));
  option.yAxis.push(Object.assign(axisCommon(X(17)), yr, {gridIndex:i, type:'value', position:'right', axisLabel:{show:false}}));
  const xi = 2*i, yi = 2*i;
  const resPts = d.res.map((v,k)=>[k*d.step, v]);
  option.series.push({type:'line', name:seriesNames[0], xAxisIndex:xi, yAxisIndex:yi, data:resPts, symbol:'none', silent:true,
    lineStyle:{color:BLUE, width:Gs(5.3)}, itemStyle:{color:BLUE}, z:2});
  option.series.push({type:'line', name:seriesNames[1], xAxisIndex:xi, yAxisIndex:yi, data:d.thr, symbol:'none', silent:true,
    lineStyle:{color:SALMON, width:Gs(7.4), type:[X(30),X(16)]}, itemStyle:{color:SALMON}, z:3});
  const legendData = [
    {name:seriesNames[0], itemStyle:HIDE, lineStyle:{color:BLUE, width:Gs(5.5)}},
    {name:seriesNames[1], itemStyle:HIDE, lineStyle:{color:SALMON, width:Gs(8), type:[X(26),X(20)]}}
  ];
  if (d.alarm){
    const pts = resPts.filter(pt=>d.alarm.some(r=>pt[0]>=r[0] && pt[0]<=r[1]));
    option.series.push({type:'scatter', name:seriesNames[2], xAxisIndex:xi, yAxisIndex:yi, data:pts, symbol:ELLIPSE, symbolKeepAspect:false,
      symbolSize:[X(40), Y(40)], clip:false, silent:true,
      itemStyle:{color:RED, borderColor:DARKRED, borderWidth:Gs(4), opacity:1}, z:4});
    legendData.push({name:seriesNames[2], icon:'circle', itemStyle:{color:RED, borderColor:DARKRED, borderWidth:Gs(4), opacity:1}});
  }
  const three = !!d.alarm;
  option.legend.push({orient:'vertical', left:X(p.lg[0]), top:Y(p.lg[1]),
    padding:[Y(3), X(p.fs>1?40:60), Y(3), X(15)], itemGap:Y(three?1:5),
    itemWidth:X(145), itemHeight:Y(30), borderColor:'#000', borderWidth:Gs(3), backgroundColor:'#fff', selectedMode:false, z:10,
    textStyle:{fontFamily:FONT, fontSize:Gs(44*fs)*0.96, color:'#000'}, data:legendData});
  const cx = X((p.L+p.R)/2);
  const G = option.graphic.elements;
  const ry = sy / sx;
  G.push({type:'text', x:cx, y:Y(p.T-37), scaleY:ry, z:20, style:{text:titleText, fontFamily:FONT, fontSize:X(53*fs), fill:'#000', align:'center', verticalAlign:'middle'}});
  G.push({type:'text', x:cx, y:Y(p.B+112), scaleY:ry, z:20, style:{text:xName, fontFamily:FONT, fontSize:X(53*fs), fill:'#000', align:'center', verticalAlign:'middle'}});
  G.push({type:'text', x:X(p.L-p.ylo), y:Y((p.T+p.B)/2), rotation:Math.PI/2, scaleX:ry, z:20, style:{text:yName, fontFamily:FONT, fontWeight:'bold', fontSize:X(50*fs), fill:'#000', align:'center', verticalAlign:'middle'}});
  G.push({type:'text', x:X(p.cap[0]), y:Y(p.cap[1]), scaleY:ry, z:20, style:{text:'({b|'+letters[i]+'}) '+captions[i], fontFamily:FONT, fontSize:X(80), fill:'#000', align:'center', verticalAlign:'middle',
    rich:{b:{fontFamily:FONT, fontSize:X(80), fontWeight:'bold', fill:'#000'}}}});
});

const chart = echarts.init(el, null, {renderer:'svg'});
chart.setOption(option);
</script></body></html>
